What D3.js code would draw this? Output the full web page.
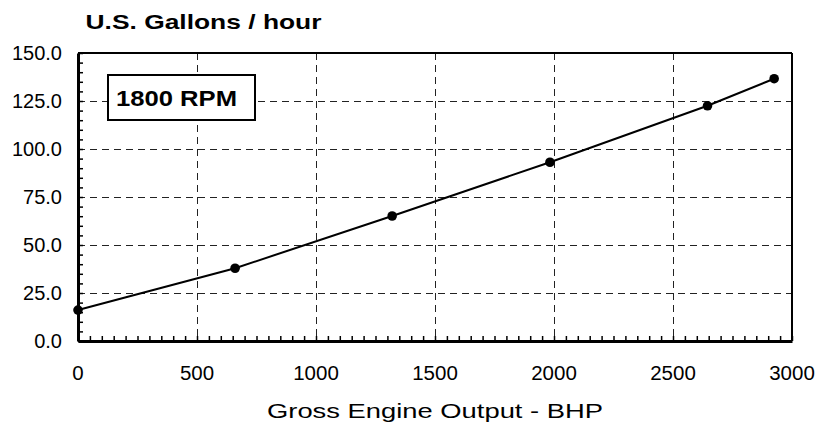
<!DOCTYPE html>
<html>
<head>
<meta charset="utf-8">
<script src="https://cdn.jsdelivr.net/npm/d3@7"></script>
<style>
  body { margin: 0; background: #fff; }
  text { font-family: "Liberation Sans", Arial, sans-serif; fill: #000; }
</style>
</head>
<body>
<div id="chart"></div>
<script>
// data
var bhp = [0, 660, 1320, 1983, 2645, 2925];
var gph = [16.1, 37.9, 65.1, 93.1, 122.5, 136.6];
var xTicks = [0, 500, 1000, 1500, 2000, 2500, 3000];
var yTicks = [0, 25, 50, 75, 100, 125, 150];

var W = 832, H = 436;
var margin = {top: 53, right: 40, bottom: 95, left: 78};
var width = W - margin.left - margin.right,
    height = H - margin.top - margin.bottom;

var svg = d3.select("#chart").append("svg")
    .attr("width", W)
    .attr("height", H);

var g = svg.append("g")
    .attr("transform", "translate(" + margin.left + "," + margin.top + ")");

var x = d3.scaleLinear().domain([0, 3000]).range([0, width]);
var y = d3.scaleLinear().domain([0, 150]).range([height, 0]);

//grid lines
g.selectAll(".vgrid").data(xTicks.slice(1, -1)).enter().append("line")
    .attr("x1", function(d){ return Math.round(x(d)) + 0.5; })
    .attr("x2", function(d){ return Math.round(x(d)) + 0.5; })
    .attr("y1", 0).attr("y2", height)
    .attr("stroke", "#222").attr("stroke-width", 1)
    .attr("stroke-dasharray", "7,5");

g.selectAll(".hgrid").data(yTicks.slice(1, -1)).enter().append("line")
    .attr("y1", function(d){ return Math.round(y(d)) + 0.5; })
    .attr("y2", function(d){ return Math.round(y(d)) + 0.5; })
    .attr("x1", 0).attr("x2", width)
    .attr("stroke", "#222").attr("stroke-width", 1)
    .attr("stroke-dasharray", "7,5");

//top and right borders
g.append("line").attr("x1", 0).attr("x2", width).attr("y1", 0).attr("y2", 0)
    .attr("stroke", "#000").attr("stroke-width", 2);
g.append("line").attr("x1", width).attr("x2", width).attr("y1", 0).attr("y2", height)
    .attr("stroke", "#000").attr("stroke-width", 2);

//minor ticks inside the frame
var xMinor = d3.range(0, 3001, 50);
var yMinor = d3.range(0, 151, 5);
var xAxis = d3.axisBottom(x).tickValues(xMinor).tickSizeInner(-5).tickSizeOuter(0)
    .tickFormat("");
var yAxis = d3.axisLeft(y).tickValues(yMinor).tickSizeInner(-5).tickSizeOuter(0)
    .tickFormat("");

var xg = g.append("g").attr("transform", "translate(0," + height + ")").call(xAxis);
var yg = g.append("g").call(yAxis);
[xg, yg].forEach(function(a){
    a.selectAll("path").attr("stroke", "#000").attr("stroke-width", 3);
    a.selectAll(".tick line").attr("stroke", "#000").attr("stroke-width", 1.5);
});

//tick labels
g.selectAll(".xlab").data(xTicks).enter().append("text")
    .attr("x", function(d){ return x(d); })
    .attr("y", height + 39)
    .attr("text-anchor", "middle")
    .style("font-size", "20.5px")
    .text(function(d){ return d; });

g.selectAll(".ylab").data(yTicks).enter().append("text")
    .attr("x", -16)
    .attr("y", function(d){ return y(d) + 7; })
    .attr("text-anchor", "end")
    .style("font-size", "20px")
    .text(function(d){ return d3.format(".1f")(d); });

//line and dots
var points = bhp.map(function(d, i){ return {x: d, y: gph[i]}; });
var line = d3.line()
    .x(function(d){ return x(d.x); })
    .y(function(d){ return y(d.y); });

g.append("path").datum(points)
    .attr("d", line)
    .attr("fill", "none")
    .attr("stroke", "#000")
    .attr("stroke-width", 2);

g.selectAll(".dot").data(points).enter().append("circle")
    .attr("cx", function(d){ return x(d.x); })
    .attr("cy", function(d){ return y(d.y); })
    .attr("r", 4.8)
    .attr("fill", "#000");

//label box
var box = svg.append("g");
box.append("rect")
    .attr("x", 108).attr("y", 75)
    .attr("width", 147).attr("height", 45)
    .attr("fill", "#fff").attr("stroke", "#000").attr("stroke-width", 2);
box.append("text")
    .attr("x", 116).attr("y", 105.5)
    .attr("textLength", 121).attr("lengthAdjust", "spacingAndGlyphs")
    .style("font-size", "22px").style("font-weight", "bold")
    .text("1800 RPM");

//titles
svg.append("text")
    .attr("x", 85.5).attr("y", 28.5)
    .attr("textLength", 236).attr("lengthAdjust", "spacingAndGlyphs")
    .style("font-size", "21px").style("font-weight", "bold")
    .text("U.S. Gallons / hour");

svg.append("text")
    .attr("x", 267).attr("y", 417.5)
    .attr("textLength", 336).attr("lengthAdjust", "spacingAndGlyphs")
    .style("font-size", "20.5px")
    .text("Gross Engine Output - BHP");
</script>
</body>
</html>
